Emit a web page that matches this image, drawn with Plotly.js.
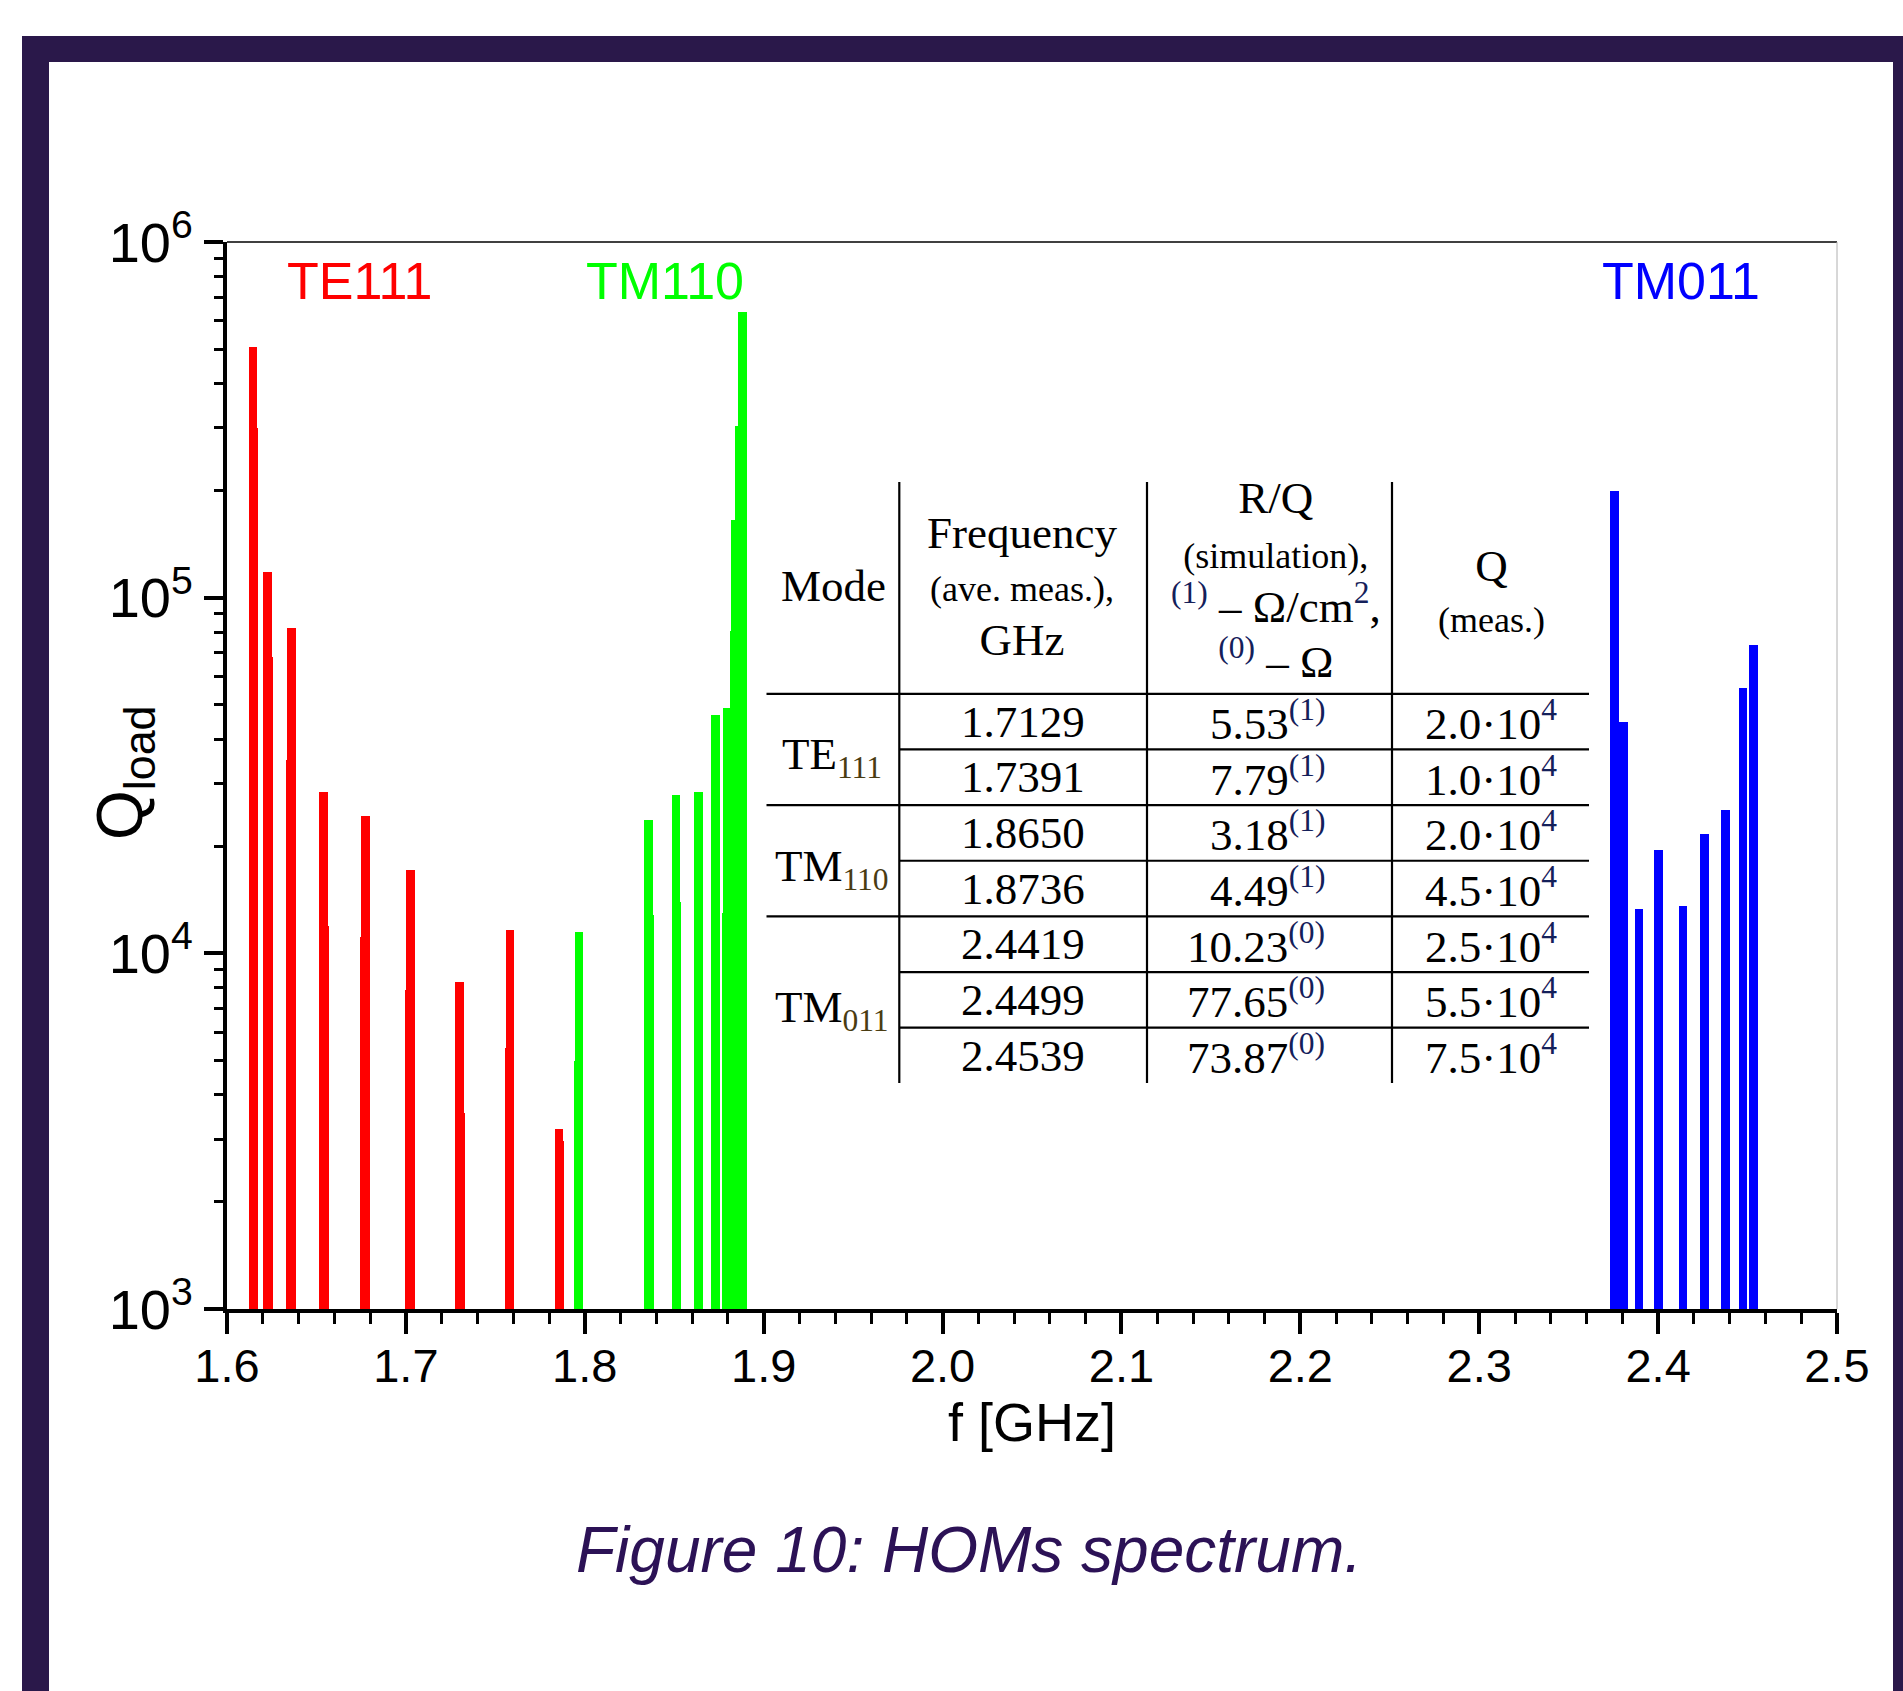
<!DOCTYPE html>
<html>
<head>
<meta charset="utf-8">
<script src="https://cdn.plot.ly/plotly-3.0.1.min.js"></script>
<style>
  html, body { margin: 0; padding: 0; overflow: hidden; background: #ffffff; width: 1903px; height: 1691px; }
  #frame { position: absolute; left: 22px; top: 36px; width: 1881px; height: 1700px; box-sizing: border-box;
           border-left: 27px solid #2a184a; border-top: 26px solid #2a184a; border-right: 10px solid #2a184a;
           background: #ffffff; }
  #chart { position: absolute; left: 0; top: 0; width: 1903px; height: 1691px; }
</style>
</head>
<body>
<div id="frame"></div>
<div id="chart"></div>
<script>
// ---------------- data ----------------
// TE111 group (red): main bars and the slightly offset lower companion bars
const te111Freq  = [1.6145, 1.6227, 1.6360, 1.6541, 1.6774, 1.7025, 1.7299, 1.7581, 1.7855];
const te111Q     = [5.08e5, 1.18e5, 8.2e4, 2.85e4, 2.43e4, 1.71e4, 8.28e3, 1.16e4, 3.2e3];
const te111Freq2 = [1.6151, 1.6232, 1.6355, 1.6546, 1.6769, 1.7020, 1.7304, 1.7576, 1.7860];
const te111Q2    = [2.99e5, 6.8e4, 3.5e4, 1.19e4, 1.11e4, 7.9e3, 3.56e3, 5.43e3, 2.97e3];

// TM110 group (green)
const tm110Freq  = [1.7967, 1.8356, 1.8511, 1.8636, 1.8730, 1.8795, 1.8840, 1.8862, 1.8881];
const tm110Q     = [1.15e4, 2.37e4, 2.78e4, 2.85e4, 4.67e4, 4.88e4, 1.65e5, 3.03e5, 6.35e5];
const tm110Freq2 = [1.7961, 1.8361, 1.8516, 1.8789, 1.8834];
const tm110Q2    = [4.97e3, 1.28e4, 1.39e4, 1.30e4, 8.06e4];

// TM011 group (blue)
const tm011Freq  = [2.3755, 2.3808, 2.3894, 2.4002, 2.4140, 2.4258, 2.4377, 2.4474, 2.4532];
const tm011Q     = [1.99e5, 4.48e4, 1.33e4, 1.95e4, 1.36e4, 2.17e4, 2.53e4, 5.59e4, 7.38e4];

// axis ticks
const yTickVals  = [1e3, 1e4, 1e5, 1e6];
const yTickText  = ['10<sup>3</sup>', '10<sup>4</sup>', '10<sup>5</sup>', '10<sup>6</sup>'];
const xTickVals  = [1.6, 1.7, 1.8, 1.9, 2.0, 2.1, 2.2, 2.3, 2.4, 2.5];
const xTickText  = ['1.6', '1.7', '1.8', '1.9', '2.0', '2.1', '2.2', '2.3', '2.4', '2.5'];

// mode labels
const modeLabels = ['TE111', 'TM110', 'TM011'];
const modeColors = ['#ff0000', '#00ff00', '#0000ff'];

// inset table
const tblModeMain = ['TE', 'TM', 'TM'];
const tblModeSub  = ['111', '110', '011'];
const tblFreq     = ['1.7129', '1.7391', '1.8650', '1.8736', '2.4419', '2.4499', '2.4539'];
const tblRQ       = ['5.53', '7.79', '3.18', '4.49', '10.23', '77.65', '73.87'];
const tblRQUnit   = ['(1)', '(1)', '(1)', '(1)', '(0)', '(0)', '(0)'];
const tblQMant    = ['2.0', '1.0', '2.0', '4.5', '2.5', '5.5', '7.5'];
const tblQExp     = ['4', '4', '4', '4', '4', '4', '4'];

// ---------------- layout helpers ----------------
const W = 1903, H = 1691;
const PL = 227, PR = 1837, PT = 242, PB = 1309;     // plot area in page pixels
const px = x => (x - PL) / (PR - PL);
const py = y => (PB - y) / (PB - PT);

const SANS_N = 'Liberation Sans Narrow, Arial Narrow, Liberation Sans, Arial, sans-serif';
const SANS   = 'Liberation Sans, Arial, sans-serif';
const SERIF  = 'Liberation Serif, Times New Roman, serif';
const BARW = 0.0048;
const SUPC = '#14205a', SUBC = '#4a3c12';

function barTrace(x, y, color) {
  return { type: 'bar', x: x, y: y, width: x.map(() => BARW),
           marker: { color: color, line: { width: 0 } }, hoverinfo: 'x+y', showlegend: false };
}

const data = [
  barTrace(te111Freq2, te111Q2, '#ff0000'),
  barTrace(te111Freq,  te111Q,  '#ff0000'),
  barTrace(tm110Freq2, tm110Q2, '#00ff00'),
  barTrace(tm110Freq,  tm110Q,  '#00ff00'),
  barTrace(tm011Freq,  tm011Q,  '#0000ff')
];

// minor tick positions on the log axis
const yMinor = [];
for (let d = 3; d < 6; d++) for (let m = 2; m <= 9; m++) yMinor.push(m * Math.pow(10, d));

const annotations = [];
const shapes = [];

// mode labels inside the plot
const modeLabelX = [360, 665, 1681];
modeLabels.forEach((t, i) => annotations.push({
  xref: 'paper', yref: 'paper', x: px(modeLabelX[i]), y: py(281), xanchor: 'center', yanchor: 'middle',
  text: t, showarrow: false, font: { family: SANS_N, size: 52, color: modeColors[i] }
}));

// y axis title
annotations.push({
  xref: 'paper', yref: 'paper', x: px(124), y: py(773), xanchor: 'center', yanchor: 'middle',
  text: 'Q<sub>load</sub>', textangle: -90, showarrow: false,
  font: { family: SANS, size: 64, color: '#000000' }
});

// caption
annotations.push({
  xref: 'paper', yref: 'paper', x: px(969), y: py(1550), xanchor: 'center', yanchor: 'middle',
  text: '<i>Figure 10: HOMs spectrum.</i>', showarrow: false,
  font: { family: SANS, size: 64, color: '#2c1256' }
});

// frame of the plot: thin top and right lines
shapes.push({ type: 'line', xref: 'paper', yref: 'paper', x0: 0, x1: 1, y0: 1, y1: 1,
              line: { color: '#000000', width: 1.5 } });
shapes.push({ type: 'line', xref: 'paper', yref: 'paper', x0: 1, x1: 1, y0: 0, y1: 1,
              line: { color: '#b0b0b0', width: 1 } });

// ---------------- inset table ----------------
const tL = 766.5, tR = 1589, tTop = 482, tBot = 1083;
const vLines = [899.3, 1147, 1392];
const headBot = 693.8, rowH = 55.65;
const fullRows = [0, 2, 4];                          // lines at these row indices span the full width
function hline(y, x0) {
  shapes.push({ type: 'line', xref: 'paper', yref: 'paper', x0: px(x0), x1: px(tR), y0: py(y), y1: py(y),
                line: { color: '#000000', width: 2.2 } });
}
vLines.forEach(x => shapes.push({ type: 'line', xref: 'paper', yref: 'paper',
  x0: px(x), x1: px(x), y0: py(tTop), y1: py(tBot), line: { color: '#000000', width: 2.2 } }));
for (let r = 0; r < 7; r++) {
  hline(headBot + r * rowH, fullRows.includes(r) ? tL : vLines[0]);
}

function tcell(x, y, text, size, xanchor) {
  annotations.push({ xref: 'paper', yref: 'paper', x: px(x), y: py(y), xanchor: xanchor || 'center',
    yanchor: 'middle', text: text, showarrow: false, font: { family: SERIF, size: size, color: '#000000' } });
}
const sz = (s, t) => '<span style="font-size:' + s + 'px">' + t + '</span>';
const sup = t => '<sup><span style="color:' + SUPC + '">' + t + '</span></sup>';

// header (multi-line cells; line spacing follows the base font size)
tcell(833, 586, 'Mode', 45);
tcell(1022, 586, sz(45, 'Frequency') + '<br>' + sz(36, '(ave. meas.),') + '<br>' + sz(45, 'GHz'), 41);
tcell(1276, 580, sz(45, 'R/Q') + '<br>' + sz(36, '(simulation),') + '<br>' +
      sz(45, sup('(1)') + ' \u2013 \u03A9/cm' + sup('2') + ',') + '<br>' +
      sz(45, sup('(0)') + ' \u2013 \u03A9'), 42);
tcell(1491, 590, sz(45, 'Q') + '<br>' + sz(36, '(meas.)'), 39);

// body rows
const rowMid = r => headBot + (r + 0.5) * rowH;
tblFreq.forEach((f, r) => {
  tcell(1023, rowMid(r), f, 45);
  tcell(1327, rowMid(r) - 1, tblRQ[r] + sup(tblRQUnit[r]), 45, 'right');
  tcell(1491, rowMid(r) - 1, tblQMant[r] + '\u00B710' + sup(tblQExp[r]), 45);
});
// mode names
const modeRowY = [headBot + rowH * 1 + 8, headBot + rowH * 3 + 8, headBot + rowH * 5.5 + 10];
tblModeMain.forEach((m, i) => {
  tcell(832, modeRowY[i], m + '<sub><span style="color:' + SUBC + '">' + tblModeSub[i] + '</span></sub>', 45);
});

const layout = {
  width: W, height: H,
  margin: { l: PL, r: W - PR, t: PT, b: H - PB, pad: 0 },
  paper_bgcolor: 'rgba(0,0,0,0)', plot_bgcolor: 'rgba(0,0,0,0)',
  barmode: 'overlay', bargap: 0, showlegend: false,
  xaxis: {
    range: [1.6, 2.5], tickmode: 'array', tickvals: xTickVals, ticktext: xTickText,
    showgrid: false, zeroline: false, showline: true, linecolor: '#000000', linewidth: 4,
    ticks: 'outside', ticklen: 21, tickwidth: 4, tickcolor: '#000000',
    ticklabelstandoff: -8,
    tickfont: { family: SANS_N, size: 47, color: '#000000' },
    minor: { dtick: 0.02, tick0: 1.6, ticks: 'outside', ticklen: 11, tickwidth: 3, tickcolor: '#000000', showgrid: false },
    title: { text: 'f [GHz]', font: { family: SANS_N, size: 54, color: '#000000' }, standoff: 0 },
    automargin: false
  },
  yaxis: {
    type: 'log', range: [3, 6], tickmode: 'array', tickvals: yTickVals, ticktext: yTickText,
    showgrid: false, zeroline: false, showline: true, linecolor: '#000000', linewidth: 4,
    ticks: 'outside', ticklen: 19, tickwidth: 4, tickcolor: '#000000',
    tickfont: { family: SANS_N, size: 56, color: '#000000' },
    minor: { tickmode: 'array', tickvals: yMinor, ticks: 'outside', ticklen: 9, tickwidth: 3, tickcolor: '#000000', showgrid: false },
    automargin: false
  },
  annotations: annotations,
  shapes: shapes
};

Plotly.newPlot('chart', data, layout, { displayModeBar: false, staticPlot: true });
</script>
</body>
</html>
